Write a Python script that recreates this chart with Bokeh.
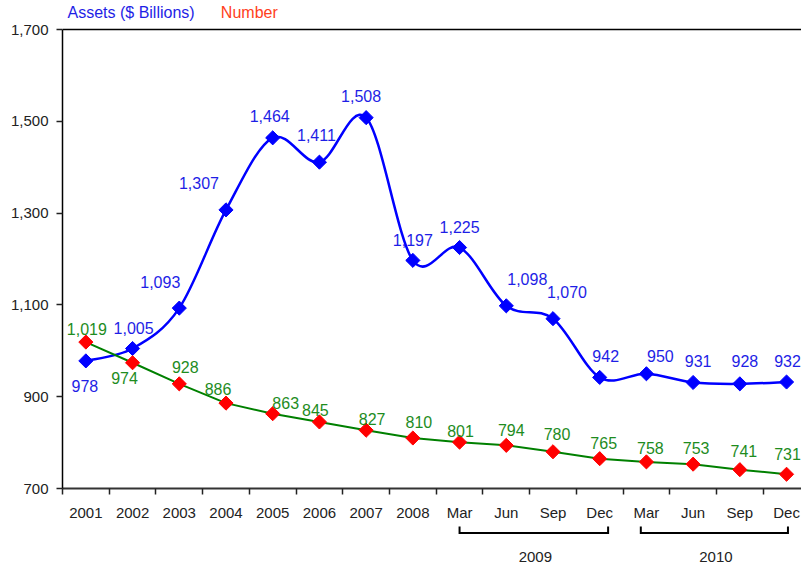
import numpy as np
from bokeh.plotting import figure
from bokeh.layouts import column
from bokeh.models import (Range1d, FixedTicker, NumeralTickFormatter, Span,
                          ColumnDataSource)
from bokeh.core.properties import value
from bokeh.embed import file_html
from bokeh.resources import INLINE

# ---------------- data ----------------
categories = ["2001", "2002", "2003", "2004", "2005", "2006", "2007", "2008",
              "Mar", "Jun", "Sep", "Dec", "Mar", "Jun", "Sep", "Dec"]
assets = [978, 1005, 1093, 1307, 1464, 1411, 1508, 1197,
          1225, 1098, 1070, 942, 950, 931, 928, 932]
number = [1019, 974, 928, 886, 863, 845, 827, 810,
          801, 794, 780, 765, 758, 753, 741, 731]
groups = ["2009", "2010"]
group_members = [(8, 11), (12, 15)]
y_ticks = [700, 900, 1100, 1300, 1500, 1700]
series_names = ["Assets ($ Billions)", "Number"]

# ---------------- style ----------------
FONT = "Liberation Sans"
BLUE = "#0000FF"
BLUE_TXT = "#1E1EE6"
GREEN = "#008000"
GREEN_TXT = "#1E8C1E"
RED = "#FF0000"
ORANGE = "#FF4020"
AX = "#222222"

# label offsets in screen pixels (style only)
assets_dx = [-1, 1, -19, -27, -3, -3, -5, 0, 0, 21, 14, 6, 14, 5, 5, 1]
assets_dy = [25, -21, -26, -27, -22, -27, -22, -20, -21, -27, -27, -21, -18, -21, -23, -21]
number_dx = [1, -8, 6, -8, 13, -4, 6, 6, 1, 5, 4, 4, 4, 3, 4, 1]
number_dy = [-13, 15, -17, -14, -11, -12, -11, -16, -11, -15, -18, -16, -14, -16, -19, -20]

n = len(categories)
xs = np.arange(n) + 0.5
px_per_unit = 0.459          # vertical scale of the reference (pixels per value unit)
frame_h = 486                # main frame height in pixels
y_top = 700 + frame_h / px_per_unit
MAIN_H = 524

p = figure(width=801, height=MAIN_H, output_backend="svg", toolbar_location=None,
           x_range=Range1d(0, 15.82), y_range=Range1d(700, y_top),
           min_border_left=62, min_border_right=0, min_border_top=2,
           min_border_bottom=MAIN_H - 2 - frame_h, outline_line_color=None,
           background_fill_color="white", border_fill_color="white")
p.grid.visible = False

# y axis
ya = p.yaxis[0]
ya.ticker = FixedTicker(ticks=y_ticks)
ya.formatter = NumeralTickFormatter(format="0,0")
ya.bounds = (700, 1700)
ya.major_tick_out = 6
ya.major_tick_in = 0
ya.minor_tick_out = 0
ya.minor_tick_in = 0
ya.axis_line_color = "black"
ya.axis_line_width = 1.5
ya.major_tick_line_color = AX
ya.major_tick_line_width = 1.5
ya.major_label_standoff = 8
ya.major_label_text_font = FONT
ya.major_label_text_font_size = "15px"
ya.major_label_text_color = AX

# x axis
xa = p.xaxis[0]
xa.ticker = FixedTicker(ticks=list(xs), minor_ticks=list(range(n + 1)))
xa.major_label_overrides = {float(x): c for x, c in zip(xs, categories)}
xa.major_tick_out = 0
xa.major_tick_in = 0
xa.minor_tick_out = 6
xa.minor_tick_in = 0
xa.minor_tick_line_color = AX
xa.minor_tick_line_width = 1.5
xa.axis_line_color = "#333333"
xa.axis_line_width = 2
xa.major_label_standoff = 9
xa.major_label_text_font = FONT
xa.major_label_text_font_size = "15px"
xa.major_label_text_color = AX

# top border line at 1,700
p.add_layout(Span(location=1700, dimension="width", line_color="black", line_width=1.5))

# ---------------- assets: smoothed curve ----------------
P = np.column_stack([xs, np.array(assets, dtype=float)])
Pext = np.vstack([P[0], P, P[-1]])
x0, y0, x1, y1, cx0, cy0, cx1, cy1 = [], [], [], [], [], [], [], []
for i in range(n - 1):
    pm, pa, pb, pn = Pext[i], Pext[i + 1], Pext[i + 2], Pext[i + 3]
    c0 = pa + (pb - pm) / 6.0
    c1 = pb - (pn - pa) / 6.0
    x0.append(pa[0]); y0.append(pa[1]); x1.append(pb[0]); y1.append(pb[1])
    cx0.append(c0[0]); cy0.append(c0[1]); cx1.append(c1[0]); cy1.append(c1[1])
p.bezier(x0=x0, y0=y0, x1=x1, y1=y1, cx0=cx0, cy0=cy0, cx1=cx1, cy1=cy1,
         line_color=BLUE, line_width=2.5)
p.scatter(xs, assets, marker="square", angle=np.pi / 4, size=10,
          fill_color=BLUE, line_color=BLUE)

# ---------------- number: straight line ----------------
p.line(xs, number, line_color=GREEN, line_width=2)
p.scatter(xs, number, marker="square", angle=np.pi / 4, size=10,
          fill_color=RED, line_color=RED)

# ---------------- data labels ----------------
src_a = ColumnDataSource(dict(x=xs, y=assets, t=[f"{v:,}" for v in assets],
                              dx=assets_dx, dy=assets_dy))
p.text(x="x", y="y", text="t", x_offset="dx", y_offset="dy", source=src_a,
       text_align="center", text_baseline="middle", text_color=BLUE_TXT,
       text_font=value(FONT), text_font_size="16px")
src_n = ColumnDataSource(dict(x=xs, y=number, t=[f"{v:,}" for v in number],
                              dx=number_dx, dy=number_dy))
p.text(x="x", y="y", text="t", x_offset="dx", y_offset="dy", source=src_n,
       text_align="center", text_baseline="middle", text_color=GREEN_TXT,
       text_font=value(FONT), text_font_size="16px")

# ---------------- legend texts (above the 1,700 line) ----------------
legend_y = 1700 + 16.8 / px_per_unit
p.text(x=[0.107], y=[legend_y], text=[series_names[0]], text_align="left",
       text_baseline="middle", text_color=BLUE_TXT, text_font=value(FONT),
       text_font_size="16px")
p.text(x=[3.39], y=[legend_y], text=[series_names[1]], text_align="left",
       text_baseline="middle", text_color=ORANGE, text_font=value(FONT),
       text_font_size="16px")

# ---------------- group brackets (strip below the axis) ----------------
H = 565 - MAIN_H
p2 = figure(width=801, height=H, output_backend="svg", toolbar_location=None,
            x_range=p.x_range, y_range=Range1d(H, 0),
            min_border_left=62, min_border_right=0, min_border_top=0,
            min_border_bottom=0, outline_line_color=None,
            background_fill_color="white", border_fill_color="white")
p2.axis.visible = False
p2.grid.visible = False

top0 = 526 - MAIN_H          # cap top (page px 526)
xpx = 1 / 46.7
bracket_pad = [(0.0, 0.18), (-0.12, 0.03)]
bx, by, lx, lt = [], [], [], []
for g, (a, b), (pa_, pb_) in zip(groups, group_members, bracket_pad):
    xl = xs[a] + pa_
    xr = xs[b] + pb_
    bx.append([xl, xl, xr, xr])
    by.append([top0, top0 + 6.5, top0 + 6.5, top0])
    lx.append((xl + xr) / 2 + 1.5 * xpx)
    lt.append(g)
p2.multi_line(xs=bx, ys=by, line_color="black", line_width=2, line_join="miter")
p2.text(x=lx, y=[556 - MAIN_H] * len(lx), text=lt, text_align="center",
        text_baseline="middle", text_color=AX, text_font=value(FONT),
        text_font_size="15px")

layout = column(p, p2, spacing=0)
open("out.html", "w").write(file_html(layout, INLINE))
